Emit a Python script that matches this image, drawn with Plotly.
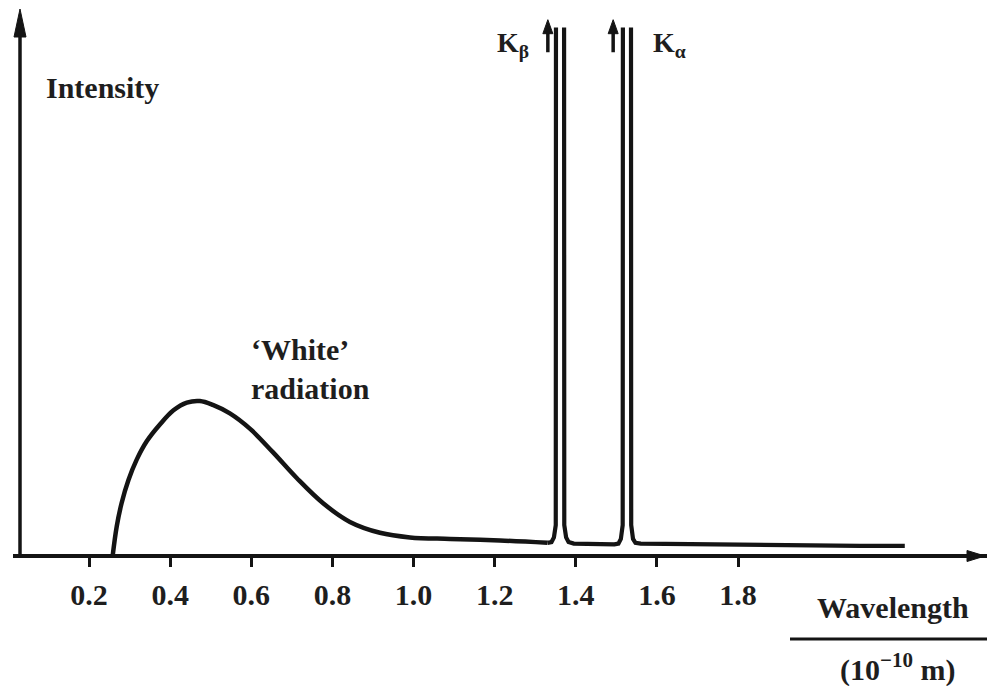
import plotly.graph_objects as go

# ---------------- data (wavelength in 1e-10 m, intensity in arbitrary units) ----------------
continuum_x = [0.258, 0.268, 0.280, 0.297, 0.317, 0.342, 0.375, 0.408, 0.441, 0.473, 0.505,
               0.547, 0.597, 0.653, 0.713, 0.777, 0.843, 0.917, 0.991, 1.090, 1.213, 1.330]
continuum_I = [0, 19, 34, 49, 62, 74, 85, 94, 99, 100, 97.5,
               92, 82, 67, 50, 34, 22, 15, 12, 11, 10, 8.5]

# characteristic lines (drawn as narrow open-topped spikes running off scale)
lines_x = [1.330, 1.340, 1.346, 1.3505, 1.351, None, 1.371, 1.3715, 1.376, 1.382, 1.395,
           1.450, 1.495, 1.505, 1.511, 1.5155, 1.516, None, 1.536, 1.5365, 1.541, 1.547, 1.560,
           1.700, 1.900, 2.100, 2.211]
lines_I = [8.5, 9, 12, 20, 341, None, 341, 20, 12, 9, 8,
           7.5, 7.5, 8, 11, 20, 341, None, 341, 20, 11, 8.5, 8,
           7.5, 7, 6.5, 6.5]

tick_vals = [0.2, 0.4, 0.6, 0.8, 1.0, 1.2, 1.4, 1.6, 1.8]
tick_text = ["0.2", "0.4", "0.6", "0.8", "1.0", "1.2", "1.4", "1.6", "1.8"]

k_beta_x, k_alpha_x = 1.331, 1.492     # positions of the small "off-scale" arrows
arrow_tail_I, arrow_tip_I = 325, 346

# ---------------- figure ----------------
INK = "#141414"
TXT = "#1e1e1e"
FONT = "Liberation Serif"
W, H = 987, 686
px_per_unit = 405.6
x0_px = 8.0
axis_px = 556.0
px_per_I = 1.55

x_range = [(13 - x0_px) / px_per_unit, (W - x0_px) / px_per_unit]
y_range = [-(H - axis_px) / px_per_I, axis_px / px_per_I]

fig = go.Figure()
fig.add_trace(go.Scatter(x=continuum_x, y=continuum_I, mode="lines",
                         line=dict(color=INK, width=4.5, shape="spline", smoothing=1.0),
                         hoverinfo="skip", showlegend=False))
fig.add_trace(go.Scatter(x=lines_x, y=lines_I, mode="lines", connectgaps=False,
                         line=dict(color=INK, width=4.2),
                         hoverinfo="skip", showlegend=False))

shapes = []
annos = []

# y axis (vertical arrow)
y_axis_x = (20 - x0_px) / px_per_unit
y_tip = (axis_px - 9) / px_per_I
shapes.append(dict(type="line", xref="x", yref="y", x0=y_axis_x, x1=y_axis_x,
                   y0=0, y1=y_tip - 15, line=dict(color=INK, width=3.5)))
shapes.append(dict(type="path", xref="x", yref="y", xsizemode="pixel", ysizemode="pixel",
                   xanchor=y_axis_x, yanchor=y_tip,
                   path="M0,0 L-6,-28 L6,-28 Z", fillcolor=INK, line=dict(color=INK, width=1)))

# x axis arrow head
x_tip = (985 - x0_px) / px_per_unit
shapes.append(dict(type="path", xref="x", yref="y", xsizemode="pixel", ysizemode="pixel",
                   xanchor=x_tip, yanchor=0,
                   path="M0,0 L-18,5.5 L-18,-5.5 Z", fillcolor=INK, line=dict(color=INK, width=1)))

# small arrows indicating the lines run off scale
for ax_x in (k_beta_x, k_alpha_x):
    shapes.append(dict(type="line", xref="x", yref="y", x0=ax_x, x1=ax_x,
                       y0=arrow_tail_I, y1=arrow_tip_I - 5, line=dict(color=INK, width=3.5)))
    shapes.append(dict(type="path", xref="x", yref="y", xsizemode="pixel", ysizemode="pixel",
                       xanchor=ax_x, yanchor=arrow_tip_I,
                       path="M0,0 L-5,-14 L5,-14 Z", fillcolor=INK, line=dict(color=INK, width=1)))

# fraction bar under "Wavelength"
shapes.append(dict(type="line", xref="paper", yref="paper", x0=790 / W, x1=1.0,
                   y0=1 - 639 / H, y1=1 - 639 / H, line=dict(color=INK, width=3)))

f = dict(family=FONT, size=30, color=TXT, weight="bold")
annos.append(dict(text="Intensity", xref="paper", yref="paper", x=44 / W, y=1 - 87 / H,
                  xanchor="left", yanchor="middle", showarrow=False, font=f))
annos.append(dict(text="\u2018White\u2019<br>radiation", xref="x", yref="y",
                  x=(249 - x0_px) / px_per_unit, y=(axis_px - 369) / px_per_I,
                  xanchor="left", yanchor="middle", align="left", showarrow=False, font=f))
annos.append(dict(text="K<sub>\u03b2</sub>", xref="x", yref="y",
                  x=(531 - x0_px) / px_per_unit, y=(axis_px - 44) / px_per_I,
                  xanchor="right", yanchor="middle", showarrow=False,
                  font=dict(family=FONT, size=28, color=TXT, weight="bold")))
annos.append(dict(text="K<sub>\u03b1</sub>", xref="x", yref="y",
                  x=(651 - x0_px) / px_per_unit, y=(axis_px - 44) / px_per_I,
                  xanchor="left", yanchor="middle", showarrow=False,
                  font=dict(family=FONT, size=28, color=TXT, weight="bold")))
annos.append(dict(text="Wavelength", xref="paper", yref="paper", x=893 / W, y=1 - 607 / H,
                  xanchor="center", yanchor="middle", showarrow=False, font=f))
annos.append(dict(text="(10<sup>\u221210</sup> m)", xref="paper", yref="paper", x=897 / W,
                  y=1 - 667 / H, xanchor="center", yanchor="middle", showarrow=False, font=f))

fig.update_layout(
    width=W, height=H, margin=dict(l=0, r=0, t=0, b=0),
    paper_bgcolor="white", plot_bgcolor="white", showlegend=False,
    xaxis=dict(domain=[13 / W, 1.0], range=x_range, anchor="free", position=(H - axis_px) / H,
               showline=True, linecolor=INK, linewidth=3.5,
               ticks="outside", ticklen=9, tickwidth=3, tickcolor=INK,
               tickvals=tick_vals, ticktext=tick_text, ticklabelstandoff=2,
               tickfont=dict(family=FONT, size=30, color=TXT, weight="bold"),
               showgrid=False, zeroline=False, automargin=False, fixedrange=True),
    yaxis=dict(domain=[0, 1], range=y_range, visible=False, showgrid=False,
               zeroline=False, fixedrange=True),
    shapes=shapes, annotations=annos,
)

fig.write_html("out.html")
